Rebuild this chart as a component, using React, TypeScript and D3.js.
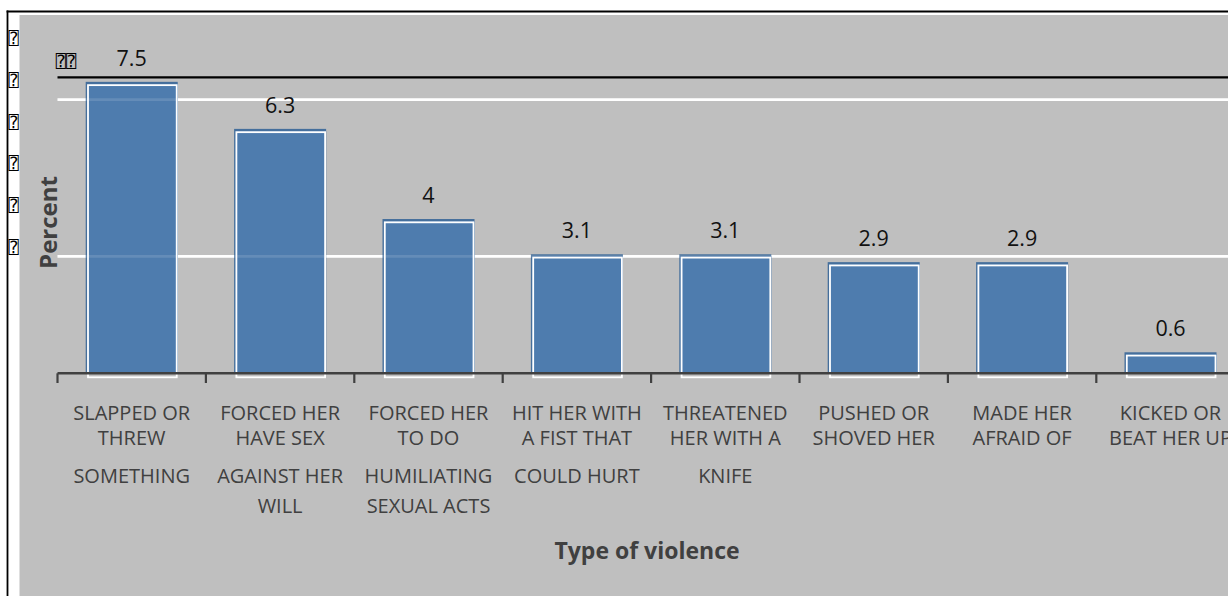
import React from "react";
import * as d3 from "d3";

// Share of women reporting each type of violence (percent)
const categories: string[][] = [
  ["SLAPPED OR", "THREW", "SOMETHING"],
  ["FORCED HER", "HAVE SEX", "AGAINST HER", "WILL"],
  ["FORCED HER", "TO DO", "HUMILIATING", "SEXUAL ACTS"],
  ["HIT HER WITH", "A FIST THAT", "COULD HURT"],
  ["THREATENED", "HER WITH A", "KNIFE"],
  ["PUSHED OR", "SHOVED HER"],
  ["MADE HER", "AFRAID OF"],
  ["KICKED OR", "BEAT HER UP"],
];
const values: number[] = [7.5, 6.3, 4, 3.1, 3.1, 2.9, 2.9, 0.6];
const gridValues: number[] = [3, 7];
const yMax = 7.57;
// tick labels on the value axis come out as placeholder glyphs
const yTickGlyphs: string[] = ["⍰", "⍰", "⍰", "⍰", "⍰", "⍰"];

const W = 1228;
const H = 596;
const plot = { left: 57.5, top: 77.3, bottom: 374, step: 148.4 };
const lineBaselines = [46, 71, 109, 139];

export default function App() {
  const ids = values.map((_, i) => String(i));
  const x = d3
    .scaleBand<string>()
    .domain(ids)
    .range([plot.left, plot.left + plot.step * ids.length])
    .paddingInner(0.38)
    .paddingOuter(0.19);
  const y = d3.scaleLinear().domain([0, yMax]).range([plot.bottom, plot.top]);
  const bw = x.bandwidth();
  const tickXs = ids.map((_, i) => plot.left + i * plot.step);
  const font = "'Open Sans', 'DejaVu Sans', sans-serif";
  const glyphFont = "'DejaVu Sans Mono', 'DejaVu Sans', monospace";

  return (
    <svg
      width={W}
      height={H}
      style={{ position: "absolute", left: 0, top: 0, background: "#fff" }}
    >
      {/* frame */}
      <rect x={19.5} y={15} width={W - 19.5} height={H - 15} fill="#bfbfbf" />
      <line x1={7.5} x2={7.5} y1={10.5} y2={H} stroke="#000" strokeWidth={1.8} />
      <line x1={6.6} x2={W} y1={11.5} y2={11.5} stroke="#000" strokeWidth={1.8} />

      {yTickGlyphs.map((g, i) => (
        <text
          key={"yt" + i}
          x={13.5}
          y={44 + i * 41.8}
          fontSize={17}
          textAnchor="middle"
          fontFamily={glyphFont}
          fill="#000"
        >
          {g}
        </text>
      ))}
      <text x={66} y={67} fontSize={17} textAnchor="middle" fontFamily={glyphFont} fill="#000">
        ⍰⍰
      </text>

      {/* gridlines */}
      {gridValues.map((v) => (
        <line
          key={"g" + v}
          x1={plot.left}
          x2={W}
          y1={y(v)}
          y2={y(v)}
          stroke="#fff"
          strokeWidth={2.6}
        />
      ))}
      <line
        x1={plot.left}
        x2={W}
        y1={y(yMax)}
        y2={y(yMax)}
        stroke="#000"
        strokeWidth={2.2}
      />

      {/* bars */}
      {values.map((v, i) => {
        const bx = x(String(i))!;
        const top = y(v) + 1.8;
        const h = plot.bottom - top;
        return (
          <g key={"b" + i}>
            <rect x={bx} y={top} width={bw} height={h} fill="#456f9c" />
            <rect x={bx + 1.5} y={top + 2} width={bw - 1.5} height={h - 2} fill="#4e7cae" />
            <rect
              x={bx + 2.3}
              y={top + 3.3}
              width={bw - 3.3}
              height={h}
              fill="none"
              stroke="#fff"
              strokeWidth={1.8}
            />
          </g>
        );
      })}
      {/* gridlines faintly visible through the bars */}
      {gridValues.map((v) => (
        <line
          key={"gs" + v}
          x1={plot.left}
          x2={W}
          y1={y(v)}
          y2={y(v)}
          stroke="#fff"
          strokeWidth={2.6}
          opacity={0.12}
        />
      ))}

      {/* value labels */}
      {values.map((v, i) => (
        <text
          key={"v" + i}
          x={x(String(i))! + bw / 2}
          y={y(v) - 14}
          fontSize={21.5}
          textAnchor="middle"
          fontFamily={font}
          fill="#111"
        >
          {String(v)}
        </text>
      ))}

      {/* category axis */}
      <line
        x1={plot.left}
        x2={W}
        y1={plot.bottom - 0.7}
        y2={plot.bottom - 0.7}
        stroke="#404040"
        strokeWidth={2.6}
      />
      {tickXs.map((tx, i) => (
        <line
          key={"t" + i}
          x1={tx}
          x2={tx}
          y1={plot.bottom - 0.7}
          y2={plot.bottom + 9}
          stroke="#404040"
          strokeWidth={2.2}
        />
      ))}
      {categories.map((lines, i) => (
        <text
          key={"c" + i}
          x={x(String(i))! + bw / 2}
          fontSize={20}
          textAnchor="middle"
          fontFamily={font}
          fill="#404040"
        >
          {lines.map((ln, j) => (
            <tspan key={j} x={x(String(i))! + bw / 2} y={plot.bottom + lineBaselines[j]}>
              {ln}
            </tspan>
          ))}
        </text>
      ))}

      {/* axis titles */}
      <text
        x={647}
        y={559}
        fontSize={23}
        fontWeight="bold"
        textAnchor="middle"
        fontFamily={font}
        fill="#404040"
      >
        Type of violence
      </text>
      <text
        transform="translate(57,222.5) rotate(-90)"
        fontSize={24}
        fontWeight="bold"
        textAnchor="middle"
        fontFamily={font}
        fill="#404040"
      >
        Percent
      </text>
    </svg>
  );
}
